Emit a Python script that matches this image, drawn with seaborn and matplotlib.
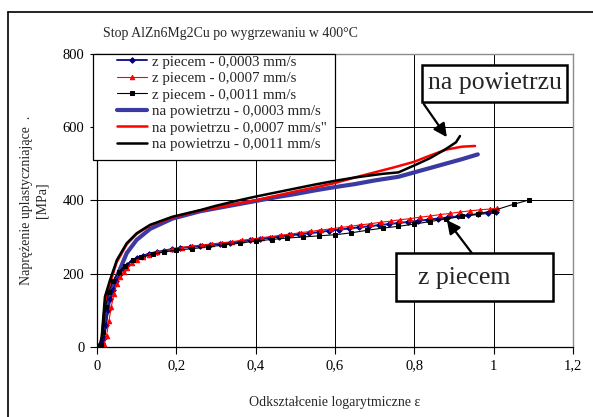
import matplotlib
matplotlib.use("Agg")
import matplotlib.pyplot as plt
from matplotlib.patches import Rectangle
import seaborn as sns
import pandas as pd

# z piecem (thin lines with markers)
zp1_x = [0.005, 0.012, 0.018, 0.022, 0.028, 0.034, 0.041, 0.049, 0.058, 0.067, 0.075, 0.088,
         0.10, 0.115, 0.13, 0.15, 0.17, 0.19, 0.21, 0.235, 0.26, 0.285, 0.31, 0.335, 0.36,
         0.385, 0.41, 0.435, 0.46, 0.485, 0.51, 0.535, 0.56, 0.585, 0.61, 0.635, 0.66, 0.685,
         0.71, 0.735, 0.76, 0.785, 0.81, 0.835, 0.86, 0.885, 0.91, 0.935, 0.96, 0.985, 1.005]
zp1_y = [0, 10, 25, 60, 100, 130, 155, 180, 200, 213, 223, 235,
         242, 248, 254, 259, 263, 267, 270, 273, 275, 278, 281, 284, 287,
         291, 295, 298, 301, 304, 307, 310, 313, 317, 320, 323, 326, 329,
         332, 335, 338, 341, 344, 347, 350, 353, 356, 359, 362, 365, 368]

zp2_x = [0.01, 0.018, 0.024, 0.03, 0.036, 0.043, 0.05, 0.058, 0.067, 0.075, 0.088, 0.10,
         0.115, 0.13, 0.15, 0.17, 0.19, 0.215, 0.24, 0.265, 0.29, 0.315, 0.34, 0.365, 0.39,
         0.415, 0.44, 0.465, 0.49, 0.515, 0.54, 0.565, 0.59, 0.615, 0.64, 0.665, 0.69, 0.715,
         0.74, 0.765, 0.79, 0.815, 0.84, 0.865, 0.89, 0.915, 0.94, 0.965, 0.99, 1.008]
zp2_y = [0, 8, 30, 70, 110, 145, 172, 192, 205, 215, 228, 238,
         246, 252, 258, 263, 267, 271, 275, 278, 281, 284, 287, 291, 294,
         298, 301, 305, 308, 312, 315, 319, 322, 326, 329, 333, 336, 340,
         343, 347, 350, 354, 357, 361, 364, 368, 371, 374, 376, 378]

zp3_x = [0, 0.01, 0.016, 0.022, 0.03, 0.04, 0.055, 0.07, 0.09, 0.11, 0.14, 0.17, 0.20, 0.24,
         0.28, 0.32, 0.36, 0.40, 0.44, 0.48, 0.52, 0.56, 0.60, 0.64, 0.68, 0.72, 0.76, 0.80,
         0.84, 0.88, 0.92, 0.96, 1.0, 1.05, 1.09]
zp3_y = [0, 5, 40, 110, 150, 180, 205, 222, 236, 245, 253, 259, 264, 268,
         273, 278, 283, 289, 293, 297, 300, 303, 306, 311, 318, 324, 329, 335,
         342, 349, 356, 363, 372, 389, 401]

# na powietrzu (thick lines)
np1_x = [0.012, 0.02, 0.028, 0.04, 0.05, 0.075, 0.10, 0.134, 0.19, 0.26, 0.30, 0.35, 0.40,
         0.45, 0.50, 0.55, 0.60, 0.65, 0.70, 0.76, 0.80, 0.84, 0.88, 0.92, 0.96]
np1_y = [0, 60, 128, 165, 192, 256, 292, 322, 350, 370, 378, 388, 398,
         408, 417, 427, 436, 444, 454, 464, 476, 488, 500, 512, 525]

np2_x = [0.01, 0.02, 0.033, 0.05, 0.075, 0.10, 0.134, 0.19, 0.26, 0.30, 0.35, 0.40, 0.45,
         0.50, 0.55, 0.60, 0.65, 0.70, 0.75, 0.80, 0.84, 0.88, 0.92, 0.953]
np2_y = [0, 120, 175, 232, 280, 308, 332, 353, 372, 380, 390, 400, 412,
         424, 435, 447, 462, 476, 490, 505, 522, 538, 546, 548]

np3_x = [0, 0.008, 0.012, 0.02, 0.033, 0.05, 0.075, 0.10, 0.134, 0.19, 0.26, 0.30, 0.35,
         0.40, 0.45, 0.50, 0.55, 0.60, 0.65, 0.72, 0.76, 0.80, 0.84, 0.88, 0.905, 0.915]
np3_y = [0, 10, 28, 137, 183, 237, 283, 310, 333, 355, 373, 385, 398,
         410, 421, 432, 443, 453, 462, 472, 476, 495, 515, 540, 558, 575]

labels = ["z piecem - 0,0003 mm/s", "z piecem - 0,0007 mm/s", "z piecem - 0,0011 mm/s",
          "na powietrzu - 0,0003 mm/s", "na powietrzu - 0,0007 mm/s\"",
          "na powietrzu - 0,0011 mm/s"]

sns.set_style("white")
plt.rcParams['font.family'] = ['Liberation Serif', 'DejaVu Serif']

fig = plt.figure(figsize=(5.93, 4.17), dpi=100)
ax = fig.add_axes([97 / 593, 1 - 347 / 417, 476 / 593, 293.5 / 417])

# thick curves
sns.lineplot(x=np1_x, y=np1_y, ax=ax, color="#3a3aa0", lw=3.0, sort=False,
             estimator=None, label=labels[3], zorder=3)
sns.lineplot(x=np2_x, y=np2_y, ax=ax, color="#ff0000", lw=1.8, sort=False,
             estimator=None, label=labels[4], zorder=3)
sns.lineplot(x=np3_x, y=np3_y, ax=ax, color="black", lw=1.8, sort=False,
             estimator=None, label=labels[5], zorder=3)

# thin curves with markers
sns.lineplot(x=zp1_x, y=zp1_y, ax=ax, color="#1a1a8c", lw=1.4, marker="D", ms=2.8,
             mec="#000080", mfc="#000080", sort=False, estimator=None, label=labels[0], zorder=4)
sns.lineplot(x=zp2_x, y=zp2_y, ax=ax, color="#ff0000", lw=0.8, marker="^", ms=3.2,
             mec="#ff0000", mfc="#ff0000", sort=False, estimator=None, label=labels[1], zorder=4)
sns.lineplot(x=zp3_x, y=zp3_y, ax=ax, color="black", lw=0.8, marker="s", ms=2.2,
             mec="black", mfc="black", sort=False, estimator=None, label=labels[2], zorder=4)

ax.set_xlim(0, 1.2)
ax.set_ylim(0, 800)
ax.set_xticks([0, 0.2, 0.4, 0.6, 0.8, 1.0, 1.2])
ax.set_xticklabels(["0", "0,2", "0,4", "0,6", "0,8", "1", "1,2"])
ax.set_yticks([0, 200, 400, 600, 800])
ax.tick_params(axis="both", direction="out", length=5, width=0.8, colors="black",
               labelsize=10.5, pad=4, left=True, bottom=True)
ax.grid(True, color="black", lw=0.7)
for s in ["left", "bottom"]:
    ax.spines[s].set_color("black")
    ax.spines[s].set_linewidth(0.9)
for s in ["top", "right"]:
    ax.spines[s].set_color("#8c8c8c")
    ax.spines[s].set_linewidth(1.0)

ax.set_xlabel("Odkształcenie logarytmiczne ε", fontsize=10, labelpad=17)
ax.set_ylabel("Naprężenie uplastyczniające  .\n[MPa]", fontsize=10, labelpad=10,
              linespacing=1.3)

# legend with its own frame
handles, labs = ax.get_legend_handles_labels()
order = [labs.index(l) for l in labels]
ax.add_patch(Rectangle((-4 / 476, (347 - 160) / 293.5), 242 / 476, 106.5 / 293.5,
                       transform=ax.transAxes, facecolor="white", edgecolor="black",
                       lw=0.9, zorder=6, clip_on=False))
leg = ax.legend([handles[i] for i in order], labels, loc="upper left",
                bbox_to_anchor=((117 - 97) / 476, 1 - 1.5 / 293.5), frameon=False,
                fontsize=10.8, borderpad=0, handlelength=2.0, handletextpad=0.35,
                labelspacing=0.2, borderaxespad=0, numpoints=1)
leg.set_zorder(7)

# annotation boxes
ax.add_patch(Rectangle((0.819, 668), 0.366, 101, facecolor="white", edgecolor="black",
                       lw=1.8, zorder=6, clip_on=False))
ax.text(1.002, 720, "na powietrzu", fontsize=18.5, ha="center", va="center", zorder=7)
ax.annotate("", xy=(0.882, 572), xytext=(0.824, 662),
            arrowprops=dict(arrowstyle="-|>,head_length=0.8,head_width=0.4", color="black",
                            lw=1.6, shrinkA=0, shrinkB=0), zorder=7)

ax.add_patch(Rectangle((0.754, 125), 0.396, 131, facecolor="white", edgecolor="black",
                       lw=1.8, zorder=6, clip_on=False))
ax.text(0.926, 188, "z piecem", fontsize=18.5, ha="center", va="center", zorder=7)
ax.annotate("", xy=(0.882, 346), xytext=(0.945, 256),
            arrowprops=dict(arrowstyle="-|>,head_length=0.8,head_width=0.4", color="black",
                            lw=1.6, shrinkA=0, shrinkB=0), zorder=7)

# title and outer frame
fig.text(103 / 593, 1 - 33 / 417, "Stop AlZn6Mg2Cu po wygrzewaniu w 400°C",
         fontsize=10, ha="left", va="center")
fig.add_artist(plt.Line2D([8 / 593, 8 / 593], [0, 1 - 12 / 417], color="black", lw=1.2))
fig.add_artist(plt.Line2D([8 / 593, 1], [1 - 12 / 417, 1 - 12 / 417], color="black", lw=1.2))

fig.savefig("out.png", dpi=100)
